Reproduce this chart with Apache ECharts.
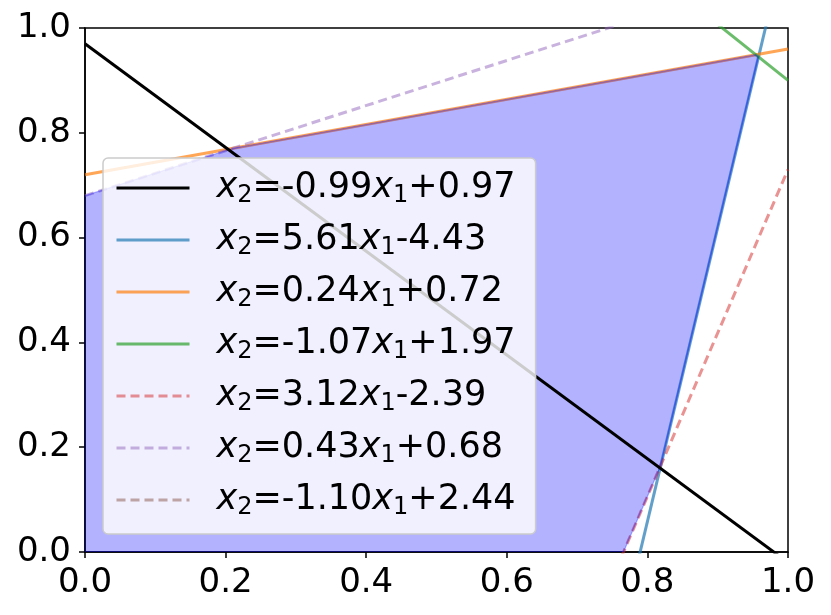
<!DOCTYPE html>
<html>
<head>
<meta charset="utf-8">
<script src="https://cdn.jsdelivr.net/npm/echarts@6/dist/echarts.min.js"></script>
<style>
  html, body { margin: 0; padding: 0; background: #fff; }
  #chart { width: 831px; height: 615px; }
</style>
</head>
<body>
<div id="chart"></div>
<script>
// lines x2 = slope * x1 + intercept
const slopes = [-0.99, 5.61, 0.24, -1.07, 3.12, 0.43, -1.10];
const intercepts = [0.97, -4.43, 0.72, 1.97, -2.39, 0.68, 2.44];
// 1: region above line, -1: region below line, 0: not a constraint
const senses = [0, 1, -1, -1, 1, -1, -1];
const dashed = [false, false, false, false, true, true, true];
const ticks = [0, 0.2, 0.4, 0.6, 0.8, 1.0];

const palette = [
  '#000000',
  'rgba(31,119,180,0.7)',
  'rgba(255,127,14,0.7)',
  'rgba(44,160,44,0.7)',
  'rgba(214,39,40,0.5)',
  'rgba(148,103,189,0.5)',
  'rgba(140,86,75,0.5)'
];
const FONT = 'DejaVu Sans';

const fmt = v => v.toFixed(2);
const names = slopes.map((a, i) => {
  const b = intercepts[i];
  return 'x2=' + fmt(a) + 'x1' + (b >= 0 ? '+' : '') + fmt(b);
});

// feasible region: clip the axis box by half-planes
function clipPoly(poly, a, b, s) {
  const f = p => s * (p[1] - a * p[0] - b);
  const out = [];
  for (let i = 0; i < poly.length; i++) {
    const p = poly[i], q = poly[(i + 1) % poly.length];
    const fp = f(p), fq = f(q);
    if (fp >= 0) out.push(p);
    if ((fp >= 0) !== (fq >= 0)) {
      const t = fp / (fp - fq);
      out.push([p[0] + t * (q[0] - p[0]), p[1] + t * (q[1] - p[1])]);
    }
  }
  return out;
}
const hi = ticks[ticks.length - 1];
let region = [[0, 0], [hi, 0], [hi, hi], [0, hi]];
senses.forEach((s, i) => {
  if (s !== 0) region = clipPoly(region, slopes[i], intercepts[i], s);
});

const lineSeries = slopes.map((a, i) => ({
  name: names[i],
  type: 'line',
  data: [[0, intercepts[i]], [hi, a * hi + intercepts[i]]],
  symbol: 'none',
  clip: true,
  silent: true,
  z: i === 0 ? 3.5 : 2,
  color: palette[i],
  lineStyle: {
    color: palette[i],
    width: 3,
    type: dashed[i] ? [9, 5] : 'solid'
  }
}));

const regionSeries = {
  type: 'custom',
  name: 'region',
  clip: true,
  z: 3,
  silent: true,
  data: [0],
  renderItem: (params, api) => ({
    type: 'polygon',
    shape: { points: region.map(p => api.coord(p)) },
    style: { fill: 'rgba(0,0,255,0.3)', stroke: 'rgba(0,0,255,0.3)', lineWidth: 1.2 }
  })
};

const axisCommon = {
  type: 'value',
  min: 0,
  max: hi,
  interval: 0.2,
  splitLine: { show: false },
  axisLine: { show: true, lineStyle: { color: '#000', width: 1.5 } },
  axisTick: { show: true, inside: false, length: 6, lineStyle: { color: '#000', width: 1.5 } },
  axisLabel: {
    color: '#000',
    fontSize: 34,
    fontFamily: FONT,
    margin: 14,
    formatter: v => v.toFixed(1)
  }
};

const chart = echarts.init(document.getElementById('chart'));
chart.setOption({
  animation: false,
  grid: {
    left: 85, right: 43, top: 28, bottom: 63,
    show: true, borderColor: '#000', borderWidth: 1.5, backgroundColor: 'transparent'
  },
  xAxis: axisCommon,
  yAxis: axisCommon,
  legend: {
    data: names,
    orient: 'vertical',
    left: 103,
    top: 158,
    z: 5,
    padding: [10, 20, 14, 12],
    itemWidth: 73,
    itemHeight: 14,
    itemGap: 12,
    backgroundColor: 'rgba(255,255,255,0.8)',
    borderColor: '#cccccc',
    borderWidth: 1.5,
    borderRadius: 5,
    selectedMode: false,
    itemStyle: { color: 'rgba(0,0,0,0)', borderWidth: 0, opacity: 0 },
    lineStyle: { width: 3 },
    formatter: name => {
      const i = names.indexOf(name);
      const b = intercepts[i];
      return '{g|}{i|x}{s|2}{n|=' + fmt(slopes[i]) + '}{i|x}{s|1}{n|' + (b >= 0 ? '+' : '') + fmt(b) + '}';
    },
    textStyle: {
      color: '#000',
      fontFamily: FONT,
      fontSize: 35,
      lineHeight: 40,
      rich: {
        g: { width: 22, lineHeight: 40 },
        n: { fontSize: 35, fontFamily: FONT, lineHeight: 40, color: '#000' },
        i: { fontSize: 35, fontFamily: FONT, fontStyle: 'italic', lineHeight: 40, color: '#000' },
        s: { fontSize: 24, fontFamily: FONT, lineHeight: 24, verticalAlign: 'bottom', color: '#000' }
      }
    }
  },
  series: lineSeries.concat([regionSeries])
});
</script>
</body>
</html>
